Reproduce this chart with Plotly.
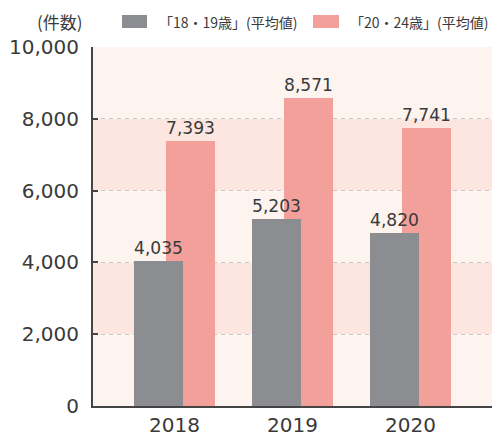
import plotly.graph_objects as go

years = ["2018", "2019", "2020"]
teen_vals = [4035, 5203, 4820]
young_vals = [7393, 8571, 7741]
series_names = ["「18・19歳」(平均値)", "「20・24歳」(平均値)"]
y_ticks = [0, 2000, 4000, 6000, 8000, 10000]

FONT = "Noto Sans CJK JP"
NUMFONT = "DejaVu Sans"
TXT = "#3a3a3a"
GRAY = "#8c8d91"
PINK = "#f4a09a"
COLORS = [GRAY, PINK]

fig = go.Figure()
fig.add_trace(go.Bar(
    x=years, y=young_vals, name=series_names[1], marker_color=PINK,
    marker_line_width=0,
    width=0.415, offset=-0.072, text=[f"{v:,}" for v in young_vals],
    textposition="outside", cliponaxis=False,
    textfont=dict(size=18, color=TXT, family=NUMFONT),
))
fig.add_trace(go.Bar(
    x=years, y=teen_vals, name=series_names[0], marker_color=GRAY,
    marker_line_width=0,
    width=0.415, offset=-0.343, text=[f"{v:,}" for v in teen_vals],
    textposition="outside", cliponaxis=False,
    textfont=dict(size=18, color=TXT, family=NUMFONT),
))

band_colors = ["#fdf4f0", "#fde5e0"]
for i in range(5):
    fig.add_shape(type="rect", xref="paper", yref="y", x0=0, x1=1,
                  y0=y_ticks[i], y1=y_ticks[i + 1], layer="below",
                  line_width=0, fillcolor=band_colors[i % 2])

# manual legend
leg_rects = [(0.0727, 0.1353), (0.5514, 0.6165)]
leg_text_x = [0.1604, 0.639]
for i in range(2):
    fig.add_shape(type="rect", xref="paper", yref="paper",
                  x0=leg_rects[i][0], x1=leg_rects[i][1], y0=1.0529, y1=1.0891,
                  line_width=0, fillcolor=COLORS[i])
    fig.add_annotation(text=series_names[i], xref="paper", yref="paper",
                       x=leg_text_x[i], y=1.071, xanchor="left", yanchor="middle",
                       showarrow=False, font=dict(size=14, color=TXT, family=FONT))

fig.add_annotation(text="(件数)", xref="paper", yref="paper", x=-0.0827, y=1.072,
                   xanchor="center", yanchor="middle", showarrow=False,
                   font=dict(size=17, color=TXT, family=FONT))

fig.update_layout(
    width=504, height=436,
    margin=dict(l=93, r=12, t=47, b=30, autoexpand=False),
    barmode="overlay",
    plot_bgcolor="white", paper_bgcolor="white",
    font=dict(family=FONT, color=TXT),
    showlegend=False,
    bargap=0,
)
fig.update_xaxes(range=[-0.69, 2.69], showline=True, linecolor="#444", linewidth=2,
                 tickfont=dict(size=20, color=TXT, family=NUMFONT), ticks="",
                 showgrid=False, fixedrange=True)
fig.update_yaxes(range=[0, 10000], tickvals=y_ticks, tickformat=",",
                 showline=True, linecolor="#444", linewidth=2,
                 ticks="inside", ticklen=5, tickwidth=2, tickcolor="#444",
                 ticklabelstandoff=8,
                 tickfont=dict(size=20, color=TXT, family=NUMFONT),
                 showgrid=True, gridcolor="#c8c8c8", griddash="4px,4px", gridwidth=1,
                 zeroline=False, fixedrange=True)

fig.write_html("out.html", config={"displayModeBar": False},
               post_script="document.body.style.margin='0';")
